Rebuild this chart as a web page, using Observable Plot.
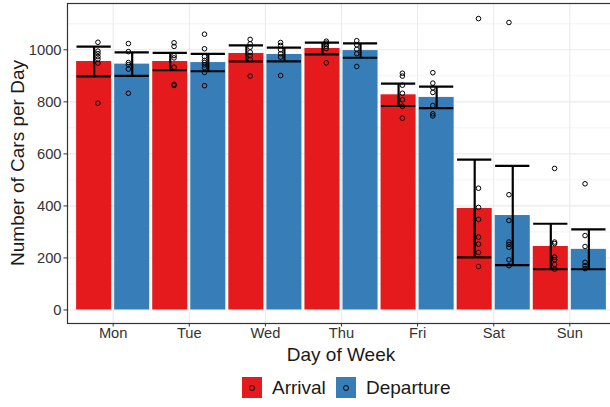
<!DOCTYPE html>
<html><head><meta charset="utf-8">
<script src="https://cdn.jsdelivr.net/npm/d3@7"></script>
<script src="https://cdn.jsdelivr.net/npm/@observablehq/plot@0.6"></script>
<style>
html,body{margin:0;padding:0;background:#fff;overflow:hidden;width:610px;height:407px;}
#chart svg{max-width:none !important;display:block;}
#legend{position:relative;height:39px;width:610px;font-family:"Liberation Sans",Arial,sans-serif;font-size:19px;color:#1a1a1a;}
.item{position:absolute;top:9px;display:flex;align-items:center;height:21px;}
.key{width:20px;height:21px;position:relative;margin-right:10px;}
.key::after{content:"";position:absolute;left:7px;top:7.5px;width:4px;height:4px;border:1px solid #000;border-radius:50%;}
</style></head>
<body><div id="chart"></div><div id="legend"></div>
<script>
const days = ["Mon","Tue","Wed","Thu","Fri","Sat","Sun"];
const types = ["Arrival","Departure"];
const colors = ["#E41A1C","#377EB8"];
const yTicks = [0,200,400,600,800,1000];
const yMinor = [100,300,500,700,900,1100];

const arrivalMean = [955,955,986,1005,827,390,244];
const arrivalSd = [57,33.5,31,22.5,43,188,87.5];
const departureMean = [945,951,982,997,817,363,233];
const departureSd = [45,33.5,26.5,27.5,41.5,190.5,76.5];

const arrivalPoints = [
  [1029,995,985,974,964,949,795],
  [1027,1013,978,969,933,867,863],
  [1040,1023,1010,991,978,963,899],
  [1033,1026,1020,1014,1005,950],
  [910,899,864,833,808,783,737],
  [1120,468,394,348,280,253,221,167],
  [544,261,255,203,193,175,157]
];
const departurePoints = [
  [1024,993,951,943,926,833],
  [1060,1004,974,959,951,942,931,913,862],
  [1028,1017,1000,985,972,901],
  [1035,1019,1002,985,936],
  [912,872,854,836,786,754,746],
  [1105,443,344,261,252,241,193,170],
  [485,286,244,183,170,159]
];

const rows = [];
const pts = [];
days.forEach((day, i) => {
  rows.push({day, i, type: "Arrival", mean: arrivalMean[i], sd: arrivalSd[i]});
  rows.push({day, i, type: "Departure", mean: departureMean[i], sd: departureSd[i]});
  arrivalPoints[i].forEach(v => pts.push({day, i, type: "Arrival", v}));
  departurePoints[i].forEach(v => pts.push({day, i, type: "Departure", v}));
});
const side = t => (t === "Arrival" ? -1 : 1);
const barW = 0.5, errW = 0.225, ptOff = 0.2;

const chart = Plot.plot({
  width: 620, height: 368,
  marginLeft: 67, marginRight: 5, marginTop: 3, marginBottom: 45,
  style: {fontFamily: "Liberation Sans, Arial, sans-serif", fontSize: "14.7px", color: "#333", background: "white", maxWidth: "none", overflow: "visible"},
  x: {type: "linear", domain: [-0.6, 6.6], ticks: days.map((d, i) => i), tickFormat: i => days[i], tickSize: 3.5, tickPadding: 1, label: null},
  y: {domain: [-52, 1178], ticks: yTicks, tickFormat: d => String(d), tickSize: 3.5, tickPadding: 2.5, label: null},
  color: {domain: types, range: colors},
  marks: [
    Plot.ruleY(yMinor, {stroke: "#EBEBEB", strokeWidth: 0.6}),
    Plot.ruleY(yTicks, {stroke: "#EBEBEB", strokeWidth: 1.1}),
    Plot.ruleX(days.map((d, i) => i), {stroke: "#EBEBEB", strokeWidth: 1.1}),
    Plot.rect(rows, {
      x1: d => d.i + (side(d.type) < 0 ? -barW : 0),
      x2: d => d.i + (side(d.type) < 0 ? 0 : barW),
      y1: 0, y2: "mean", fill: "type", insetLeft: 1.5, insetRight: 1.5
    }),
    Plot.ruleX(rows, {x: d => d.i + side(d.type) * barW / 2, y1: d => d.mean - d.sd, y2: d => d.mean + d.sd, stroke: "black", strokeWidth: 2.2}),
    Plot.ruleY(rows, {y: d => d.mean + d.sd, x1: d => d.i + side(d.type) * barW / 2 - errW, x2: d => d.i + side(d.type) * barW / 2 + errW, stroke: "black", strokeWidth: 2.2}),
    Plot.ruleY(rows, {y: d => d.mean - d.sd, x1: d => d.i + side(d.type) * barW / 2 - errW, x2: d => d.i + side(d.type) * barW / 2 + errW, stroke: "black", strokeWidth: 2.2}),
    Plot.dot(pts, {x: d => d.i + side(d.type) * ptOff, y: "v", r: 2.3, stroke: "black", strokeWidth: 1, fill: "none"}),
    Plot.frame({stroke: "#333", strokeWidth: 1.2})
  ]
});
document.getElementById("chart").appendChild(chart);

const svg = d3.select(chart);
svg.append("text").attr("x", 341).attr("y", 354).attr("dy", "0.35em")
  .attr("text-anchor", "middle").attr("fill", "#1a1a1a")
  .style("font-size", "19px").style("font-family", "Liberation Sans, Arial, sans-serif")
  .text("Day of Week");
svg.append("text").attr("transform", "translate(17,163) rotate(-90)").attr("dy", "0.35em")
  .attr("text-anchor", "middle").attr("fill", "#1a1a1a")
  .style("font-size", "19px").style("font-family", "Liberation Sans, Arial, sans-serif")
  .text("Number of Cars per Day");

const legend = document.getElementById("legend");
const lefts = [242, 336];
types.forEach((t, k) => {
  const it = document.createElement("div");
  it.className = "item";
  it.style.left = lefts[k] + "px";
  const key = document.createElement("div");
  key.className = "key";
  key.style.background = colors[k];
  const lab = document.createElement("span");
  lab.textContent = t;
  it.appendChild(key);
  it.appendChild(lab);
  legend.appendChild(it);
});
</script></body></html>
